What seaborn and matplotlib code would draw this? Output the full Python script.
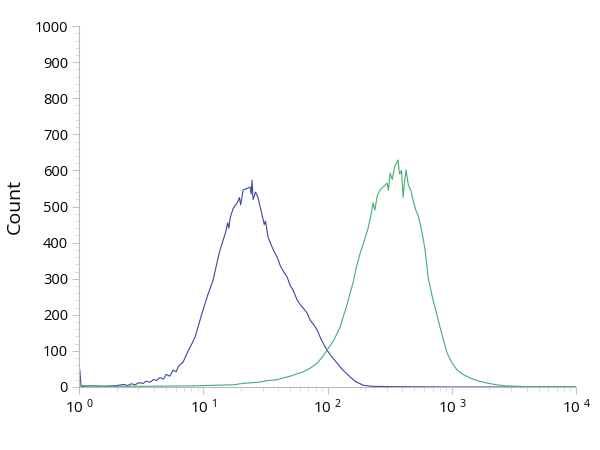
import numpy as np
import matplotlib
matplotlib.use("Agg")
import matplotlib.pyplot as plt
import matplotlib.ticker as mticker
import seaborn as sns

# channel position (decades, log10) and event counts
blue_log = [0.0, 0.005, 0.015, 0.1, 0.2, 0.3, 0.36, 0.39, 0.42, 0.45, 0.48, 0.515, 0.54, 0.57,
            0.60, 0.62, 0.65, 0.68, 0.70, 0.73, 0.757, 0.78, 0.80, 0.837, 0.87, 0.90, 0.934,
            0.96, 0.985, 1.014, 1.04, 1.078, 1.10, 1.13, 1.159,
            1.18, 1.195, 1.205, 1.215, 1.24, 1.272, 1.29, 1.30, 1.32, 1.35, 1.376, 1.385, 1.392,
            1.40, 1.42, 1.44, 1.457, 1.47, 1.49, 1.50, 1.521, 1.55, 1.57, 1.594, 1.62, 1.645,
            1.674, 1.70, 1.72, 1.755, 1.78, 1.80, 1.835, 1.86, 1.89, 1.916, 1.95, 1.996, 2.03,
            2.077, 2.12, 2.181, 2.22, 2.286, 2.35, 2.5, 3.0, 4.0]
blue_count = [0, 47, 2, 3, 2, 4, 7, 4, 9, 6, 12, 10, 16, 13,
              21, 18, 26, 22, 35, 30, 47, 42, 58, 69, 95, 115, 139,
              170, 200, 232, 260, 296, 330, 375, 407,
              430, 455, 440, 468, 495, 510, 525, 505, 546, 550, 554, 535, 573,
              520, 540, 525, 499, 480, 450, 460, 415, 390, 375, 360, 335, 320,
              305, 280, 270, 241, 228, 220, 205, 185, 172, 158, 130, 102, 85,
              66, 48, 28, 16, 5, 2, 1, 0, 0]

green_log = [0.0, 0.01, 0.2, 0.5, 0.92, 1.1, 1.239, 1.32, 1.40, 1.457, 1.52, 1.59, 1.642, 1.70,
             1.75, 1.803, 1.86, 1.916, 1.95, 1.996, 2.05, 2.101, 2.125, 2.15, 2.181, 2.205, 2.23,
             2.262, 2.29, 2.326, 2.345, 2.366, 2.38, 2.40, 2.423, 2.45, 2.479, 2.49, 2.503, 2.52,
             2.54, 2.567, 2.58, 2.595, 2.608, 2.62, 2.632, 2.65, 2.67, 2.688, 2.71, 2.73, 2.744,
             2.765, 2.785, 2.809, 2.83, 2.849, 2.88, 2.905, 2.935, 2.962, 3.0, 3.042, 3.09, 3.147,
             3.21, 3.284, 3.36, 3.445, 3.6, 4.0]
green_count = [0, 4, 2, 2, 3, 5, 6, 10, 12, 14, 18, 20, 25, 30,
               36, 42, 52, 66, 80, 102, 130, 166, 194, 220, 260, 288, 330,
               371, 400, 440, 470, 510, 490, 530, 546, 555, 565, 545, 593, 575,
               610, 629, 590, 600, 526, 570, 601, 560, 545, 518, 490, 475, 454,
               420, 380, 305, 270, 241, 200, 166, 128, 94, 68, 47, 35, 25,
               17, 11, 6, 3, 1, 0]

x_ticks = [1, 10, 100, 1000, 10000]
x_labels = ["10$^{\\ 0}$", "10$^{\\ 1}$", "10$^{\\ 2}$", "10$^{\\ 3}$", "10$^{\\ 4}$"]
y_ticks = [0, 100, 200, 300, 400, 500, 600, 700, 800, 900, 1000]

sns.set_style("white")
plt.rcParams["font.family"] = ["Open Sans", "DejaVu Sans"]
plt.rcParams["mathtext.default"] = "regular"

fig = plt.figure(figsize=(6, 4.5), dpi=100)
ax = fig.add_axes([0.132, 0.14, 0.828, 0.802])

sns.lineplot(x=10 ** np.array(blue_log), y=blue_count, color="#3b47a3", lw=0.8,
             estimator=None, ax=ax)
sns.lineplot(x=10 ** np.array(green_log), y=green_count, color="#45ad72", lw=0.8,
             estimator=None, ax=ax)

ax.set_xscale("log")
ax.set_xlim(1, 10000)
ax.set_ylim(0, 1000)
ax.set_xticks(x_ticks)
ax.set_xticklabels(x_labels, fontsize=11, color="black")
ax.xaxis.set_minor_locator(mticker.LogLocator(base=10, subs=np.arange(2, 10)))
ax.xaxis.set_minor_formatter(mticker.NullFormatter())
ax.set_yticks(y_ticks)
ax.set_yticklabels([str(v) for v in y_ticks], fontsize=10.5, color="black")
ax.yaxis.set_minor_locator(mticker.MultipleLocator(20))

ax.tick_params(which="both", bottom=True, left=True, top=False, right=False)
ax.tick_params(which="major", length=5, width=0.8, color="#c4c4c4", direction="out", pad=3)
ax.tick_params(which="minor", length=3, width=0.6, color="#d4d4d4", direction="out")

for s in ["top", "right"]:
    ax.spines[s].set_visible(False)
for s in ["left", "bottom"]:
    ax.spines[s].set_color("#bbbbbb")
    ax.spines[s].set_linewidth(0.8)

ax.set_xlabel("")
ax.set_ylabel("Count", fontsize=14, labelpad=8, color="black")

fig.savefig("out.png", dpi=100)
